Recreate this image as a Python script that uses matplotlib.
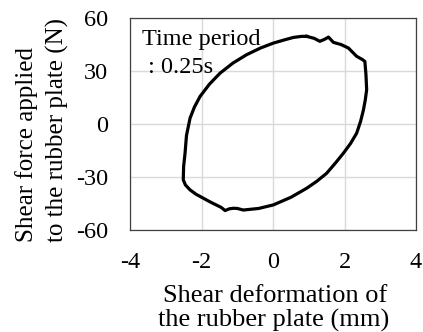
import matplotlib
matplotlib.use("Agg")
import matplotlib.pyplot as plt

# Hysteresis loop: shear deformation (mm) vs shear force (N)
deformation = [0.94, 1.15, 1.31, 1.45, 1.55, 1.69, 1.90, 2.11, 2.34, 2.50, 2.57,
               2.60, 2.62, 2.58, 2.53, 2.45, 2.34, 2.17, 1.97, 1.75, 1.50, 1.22,
               0.94, 0.50, 0.01, -0.40, -0.83, -1.00, -1.11, -1.22, -1.34, -1.45,
               -1.53, -1.75, -1.95, -2.15, -2.32, -2.45, -2.51, -2.50, -2.46,
               -2.42, -2.32, -2.20, -2.04, -1.78, -1.48, -1.12, -0.74, -0.35,
               0.01, 0.30, 0.57, 0.80, 0.94]
force = [49.6, 48.5, 46.8, 48.0, 49.2, 46.2, 45.0, 43.0, 38.3, 36.5, 35.4,
         28.0, 19.4, 13.5, 8.0, 1.5, -5.2, -11.0, -16.5, -22.0, -27.9, -32.5,
         -36.4, -41.5, -45.8, -47.8, -48.7, -47.8, -47.7, -48.0, -49.0, -47.2,
         -46.4, -44.2, -42.0, -39.8, -37.3, -34.5, -31.6, -24.0, -16.5,
         -6.5, 3.3, 9.5, 15.6, 22.5, 28.8, 34.5, 39.2, 43.0,
         45.8, 47.5, 49.0, 49.6, 49.6]

x_ticks = [-4, -2, 0, 2, 4]
y_ticks = [-60, -30, 0, 30, 60]
x_label_lines = ["Shear deformation of", "the rubber plate (mm)"]
y_label_lines = ["Shear force applied", "to the rubber plate (N)"]
note_lines = ["Time period", " : 0.25s"]

plt.rcParams['font.family'] = ['Liberation Serif', 'DejaVu Serif']
FS = 17.5

W, H = 423, 332
fig = plt.figure(figsize=(W/100, H/100), dpi=100)
ax = fig.add_axes([130/W, 1-230/H, 286/W, 212/H])

ax.plot(deformation, force, color='black', lw=2.3, solid_joinstyle='round', zorder=3)

ax.set_xlim(-4, 4)
ax.set_ylim(-60, 60)
ax.set_xticks(x_ticks)
ax.set_yticks(y_ticks)
ax.set_xticklabels([str(v) for v in x_ticks])
ax.set_yticklabels([str(v) for v in y_ticks])
ax.grid(True, color='#d9d9d9', lw=1.0, zorder=0)
ax.set_axisbelow(True)
ax.tick_params(length=0, labelsize=FS)
ax.tick_params(axis='x', pad=16)
ax.tick_params(axis='y', pad=16)
for s in ax.spines.values():
    s.set_color('#404040')
    s.set_linewidth(0.9)

# x label (two lines)
for txt, (cx, base) in zip(x_label_lines, [(275.5, 301.7), (273.5, 326.7)]):
    fig.text(cx/W, 1-base/H, txt, fontsize=19, ha='center', va='baseline')

# y label (two rotated lines, starting at the same bottom position)
for txt, bx in zip(y_label_lines, [33, 64]):
    fig.text(bx/W, 1-242/H, txt, fontsize=18, ha='left', va='baseline',
             rotation=90, rotation_mode='anchor')

# annotation inside the axes
for txt, base in zip(note_lines, [45.3, 73.0]):
    fig.text(141.7/W, 1-base/H, txt, fontsize=FS, ha='left', va='baseline')

fig.savefig("out.png", dpi=100)
